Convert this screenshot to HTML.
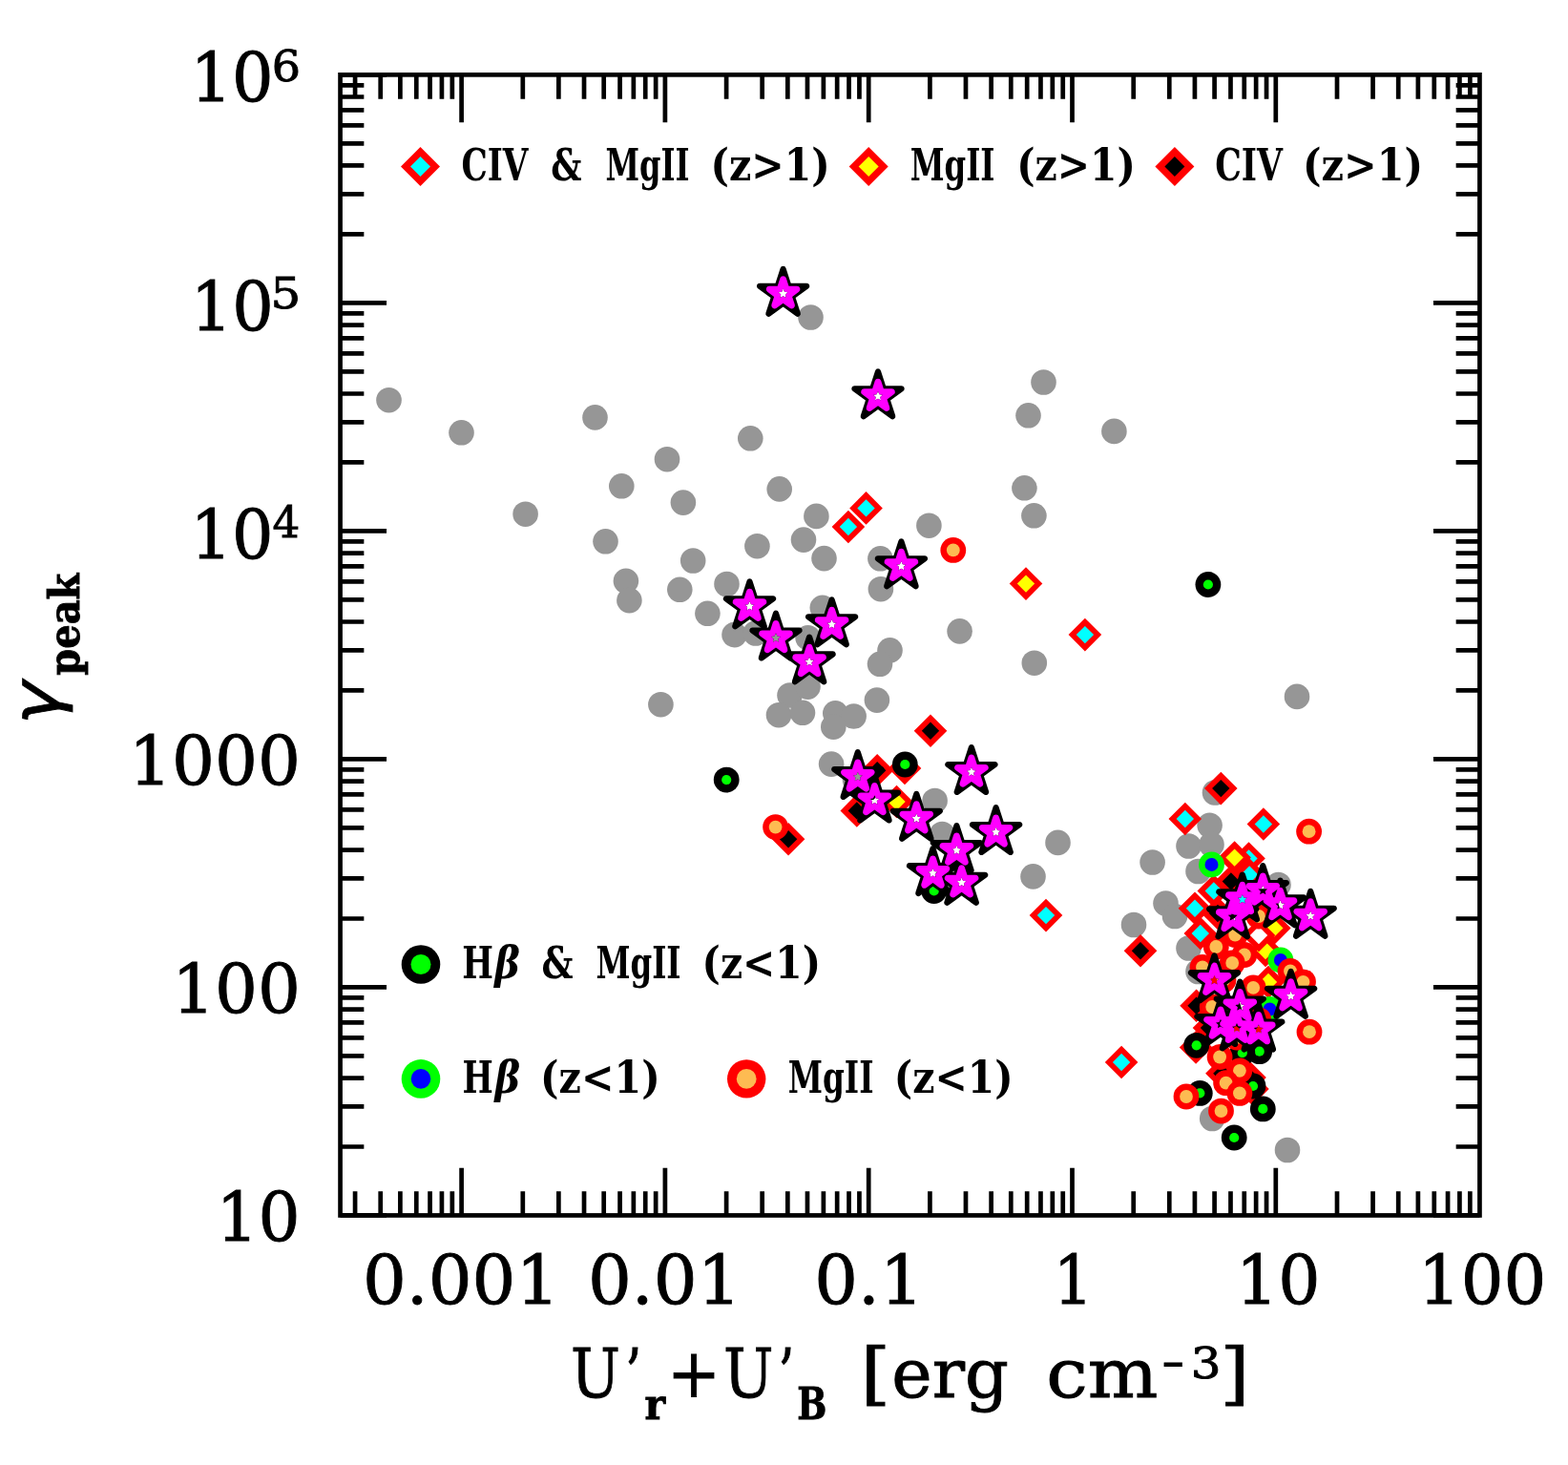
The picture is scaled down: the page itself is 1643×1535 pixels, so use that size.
<!DOCTYPE html><html><head><meta charset="utf-8"><title>gamma_peak vs energy density</title><style>html,body{margin:0;padding:0;background:#fff;}svg{display:block;}</style></head><body>
<svg width="1643" height="1535" viewBox="0 0 1643 1535">
<rect width="100%" height="100%" fill="#fff"/>
<g id="gray">
<circle cx="407.5" cy="419.2" r="13.3" fill="#969696"/>
<circle cx="483.5" cy="453.3" r="13.3" fill="#969696"/>
<circle cx="623.5" cy="437.4" r="13.3" fill="#969696"/>
<circle cx="550.6" cy="538.7" r="13.3" fill="#969696"/>
<circle cx="634.5" cy="567.3" r="13.3" fill="#969696"/>
<circle cx="651.3" cy="509.3" r="13.3" fill="#969696"/>
<circle cx="699" cy="481.2" r="13.3" fill="#969696"/>
<circle cx="715.9" cy="526.6" r="13.3" fill="#969696"/>
<circle cx="786.3" cy="459.3" r="13.3" fill="#969696"/>
<circle cx="816.7" cy="512.4" r="13.3" fill="#969696"/>
<circle cx="855.4" cy="540.9" r="13.3" fill="#969696"/>
<circle cx="793.4" cy="572.2" r="13.3" fill="#969696"/>
<circle cx="842" cy="565.6" r="13.3" fill="#969696"/>
<circle cx="863.5" cy="585.1" r="13.3" fill="#969696"/>
<circle cx="726.2" cy="587.5" r="13.3" fill="#969696"/>
<circle cx="655.9" cy="608.8" r="13.3" fill="#969696"/>
<circle cx="659.4" cy="629.1" r="13.3" fill="#969696"/>
<circle cx="712.3" cy="617.8" r="13.3" fill="#969696"/>
<circle cx="761.5" cy="612" r="13.3" fill="#969696"/>
<circle cx="741.4" cy="642.8" r="13.3" fill="#969696"/>
<circle cx="769.5" cy="665.1" r="13.3" fill="#969696"/>
<circle cx="791.8" cy="663.5" r="13.3" fill="#969696"/>
<circle cx="813" cy="668.7" r="13.3" fill="#969696"/>
<circle cx="861.8" cy="636.8" r="13.3" fill="#969696"/>
<circle cx="846.6" cy="668.2" r="13.3" fill="#969696"/>
<circle cx="922.4" cy="585.3" r="13.3" fill="#969696"/>
<circle cx="922.9" cy="617.2" r="13.3" fill="#969696"/>
<circle cx="932.5" cy="681.4" r="13.3" fill="#969696"/>
<circle cx="922" cy="695.8" r="13.3" fill="#969696"/>
<circle cx="973.4" cy="550.7" r="13.3" fill="#969696"/>
<circle cx="1005.6" cy="661.4" r="13.3" fill="#969696"/>
<circle cx="1093.5" cy="400.5" r="13.3" fill="#969696"/>
<circle cx="1077.5" cy="435.3" r="13.3" fill="#969696"/>
<circle cx="1167.4" cy="451.9" r="13.3" fill="#969696"/>
<circle cx="1073.4" cy="511.3" r="13.3" fill="#969696"/>
<circle cx="1083.4" cy="540.3" r="13.3" fill="#969696"/>
<circle cx="1083.8" cy="694.7" r="13.3" fill="#969696"/>
<circle cx="849.5" cy="332.5" r="13.3" fill="#969696"/>
<circle cx="692.4" cy="738.2" r="13.3" fill="#969696"/>
<circle cx="827.5" cy="728.5" r="13.3" fill="#969696"/>
<circle cx="846.5" cy="719.6" r="13.3" fill="#969696"/>
<circle cx="816" cy="749.2" r="13.3" fill="#969696"/>
<circle cx="841" cy="746.8" r="13.3" fill="#969696"/>
<circle cx="875.3" cy="747.3" r="13.3" fill="#969696"/>
<circle cx="894.6" cy="750.5" r="13.3" fill="#969696"/>
<circle cx="873.3" cy="761.6" r="13.3" fill="#969696"/>
<circle cx="918.9" cy="733.6" r="13.3" fill="#969696"/>
<circle cx="871.1" cy="800.6" r="13.3" fill="#969696"/>
<circle cx="898.8" cy="814" r="13.3" fill="#969696"/>
<circle cx="896" cy="817" r="13.3" fill="#969696"/>
<circle cx="979.6" cy="839" r="13.3" fill="#969696"/>
<circle cx="987.2" cy="874" r="13.3" fill="#969696"/>
<circle cx="1082.5" cy="918.4" r="13.3" fill="#969696"/>
<circle cx="1108.5" cy="882.9" r="13.3" fill="#969696"/>
<circle cx="1207.6" cy="903.5" r="13.3" fill="#969696"/>
<circle cx="1188" cy="969" r="13.3" fill="#969696"/>
<circle cx="1221.5" cy="946.5" r="13.3" fill="#969696"/>
<circle cx="1231" cy="960" r="13.3" fill="#969696"/>
<circle cx="1245.5" cy="993.5" r="13.3" fill="#969696"/>
<circle cx="1255.5" cy="1018" r="13.3" fill="#969696"/>
<circle cx="1273" cy="830.5" r="13.3" fill="#969696"/>
<circle cx="1267.6" cy="864.8" r="13.3" fill="#969696"/>
<circle cx="1245.5" cy="886.5" r="13.3" fill="#969696"/>
<circle cx="1269.5" cy="885" r="13.3" fill="#969696"/>
<circle cx="1255.5" cy="913" r="13.3" fill="#969696"/>
<circle cx="1339.5" cy="927" r="13.3" fill="#969696"/>
<circle cx="1359" cy="729.9" r="13.3" fill="#969696"/>
<circle cx="1349" cy="1205" r="13.3" fill="#969696"/>
<circle cx="1270.2" cy="1172" r="13.3" fill="#969696"/>
</g><g id="diamonds">
<path d="M888.9 534.7 L906.2 552 L888.9 569.3 L871.6 552 Z" fill="#f00"/>
<path d="M888.9 542.8 L898.1 552 L888.9 561.2 L879.7 552 Z" fill="#0ff"/>
<path d="M907.5 515.1 L924.8 532.4 L907.5 549.7 L890.2 532.4 Z" fill="#f00"/>
<path d="M907.5 523.2 L916.7 532.4 L907.5 541.6 L898.3 532.4 Z" fill="#0ff"/>
<path d="M1136.9 647.8 L1154.2 665.1 L1136.9 682.4 L1119.6 665.1 Z" fill="#f00"/>
<path d="M1136.9 655.9 L1146.1 665.1 L1136.9 674.3 L1127.7 665.1 Z" fill="#0ff"/>
<path d="M1241.8 840.7 L1259.1 858 L1241.8 875.3 L1224.5 858 Z" fill="#f00"/>
<path d="M1241.8 848.8 L1251 858 L1241.8 867.2 L1232.6 858 Z" fill="#0ff"/>
<path d="M1323.9 846.2 L1341.2 863.5 L1323.9 880.8 L1306.6 863.5 Z" fill="#f00"/>
<path d="M1323.9 854.3 L1333.1 863.5 L1323.9 872.7 L1314.7 863.5 Z" fill="#0ff"/>
<path d="M1308.5 882.2 L1325.8 899.5 L1308.5 916.8 L1291.2 899.5 Z" fill="#f00"/>
<path d="M1308.5 890.3 L1317.7 899.5 L1308.5 908.7 L1299.3 899.5 Z" fill="#0ff"/>
<path d="M1309.2 899.2 L1326.5 916.5 L1309.2 933.8 L1291.9 916.5 Z" fill="#f00"/>
<path d="M1309.2 907.3 L1318.4 916.5 L1309.2 925.7 L1300 916.5 Z" fill="#0ff"/>
<path d="M1271.8 916.2 L1289.1 933.5 L1271.8 950.8 L1254.5 933.5 Z" fill="#f00"/>
<path d="M1271.8 924.3 L1281 933.5 L1271.8 942.7 L1262.6 933.5 Z" fill="#0ff"/>
<path d="M1252 934.5 L1269.3 951.8 L1252 969.1 L1234.7 951.8 Z" fill="#f00"/>
<path d="M1252 942.6 L1261.2 951.8 L1252 961 L1242.8 951.8 Z" fill="#0ff"/>
<path d="M1257.8 960.7 L1275.1 978 L1257.8 995.3 L1240.5 978 Z" fill="#f00"/>
<path d="M1257.8 968.8 L1267 978 L1257.8 987.2 L1248.6 978 Z" fill="#0ff"/>
<path d="M1096 941.8 L1113.3 959.1 L1096 976.4 L1078.7 959.1 Z" fill="#f00"/>
<path d="M1096 949.9 L1105.2 959.1 L1096 968.3 L1086.8 959.1 Z" fill="#0ff"/>
<path d="M1175.1 1095.7 L1192.4 1113 L1175.1 1130.3 L1157.8 1113 Z" fill="#f00"/>
<path d="M1175.1 1103.8 L1184.3 1113 L1175.1 1122.2 L1165.9 1113 Z" fill="#0ff"/>
<path d="M1301.8 925.1 L1319.1 942.4 L1301.8 959.7 L1284.5 942.4 Z" fill="#f00"/>
<path d="M1301.8 933.2 L1311 942.4 L1301.8 951.6 L1292.6 942.4 Z" fill="#0ff"/>
<path d="M1075 594.3 L1092.3 611.6 L1075 628.9 L1057.7 611.6 Z" fill="#f00"/>
<path d="M1075 602.4 L1084.2 611.6 L1075 620.8 L1065.8 611.6 Z" fill="#ff0"/>
<path d="M939.5 822.7 L956.8 840 L939.5 857.3 L922.2 840 Z" fill="#f00"/>
<path d="M939.5 830.8 L948.7 840 L939.5 849.2 L930.3 840 Z" fill="#ff0"/>
<path d="M1293.6 881.3 L1310.9 898.6 L1293.6 915.9 L1276.3 898.6 Z" fill="#f00"/>
<path d="M1293.6 889.4 L1302.8 898.6 L1293.6 907.8 L1284.4 898.6 Z" fill="#ff0"/>
<path d="M1335.3 955.1 L1352.6 972.4 L1335.3 989.7 L1318 972.4 Z" fill="#f00"/>
<path d="M1335.3 963.2 L1344.5 972.4 L1335.3 981.6 L1326.1 972.4 Z" fill="#ff0"/>
<path d="M1326 978.7 L1343.3 996 L1326 1013.3 L1308.7 996 Z" fill="#f00"/>
<path d="M1326 986.8 L1335.2 996 L1326 1005.2 L1316.8 996 Z" fill="#ff0"/>
<path d="M1329 1011.7 L1346.3 1029 L1329 1046.3 L1311.7 1029 Z" fill="#f00"/>
<path d="M1329 1019.8 L1338.2 1029 L1329 1038.2 L1319.8 1029 Z" fill="#ff0"/>
<path d="M975 748.5 L992.3 765.8 L975 783.1 L957.7 765.8 Z" fill="#f00"/>
<path d="M975 756.6 L984.2 765.8 L975 775 L965.8 765.8 Z" fill="#000"/>
<path d="M826.1 862 L843.4 879.3 L826.1 896.6 L808.8 879.3 Z" fill="#f00"/>
<path d="M826.1 870.1 L835.3 879.3 L826.1 888.5 L816.9 879.3 Z" fill="#000"/>
<path d="M919.2 789.9 L936.5 807.2 L919.2 824.5 L901.9 807.2 Z" fill="#f00"/>
<path d="M919.2 798 L928.4 807.2 L919.2 816.4 L910 807.2 Z" fill="#000"/>
<path d="M948 787.7 L965.3 805 L948 822.3 L930.7 805 Z" fill="#f00"/>
<path d="M948 795.8 L957.2 805 L948 814.2 L938.8 805 Z" fill="#000"/>
<path d="M897.8 832.1 L915.1 849.4 L897.8 866.7 L880.5 849.4 Z" fill="#f00"/>
<path d="M897.8 840.2 L907 849.4 L897.8 858.6 L888.6 849.4 Z" fill="#000"/>
<path d="M1279.3 808.8 L1296.6 826.1 L1279.3 843.4 L1262 826.1 Z" fill="#f00"/>
<path d="M1279.3 816.9 L1288.5 826.1 L1279.3 835.3 L1270.1 826.1 Z" fill="#000"/>
<path d="M1289.9 906.2 L1307.2 923.5 L1289.9 940.8 L1272.6 923.5 Z" fill="#f00"/>
<path d="M1289.9 914.3 L1299.1 923.5 L1289.9 932.7 L1280.7 923.5 Z" fill="#000"/>
<path d="M1195 978.9 L1212.3 996.2 L1195 1013.5 L1177.7 996.2 Z" fill="#f00"/>
<path d="M1195 987 L1204.2 996.2 L1195 1005.4 L1185.8 996.2 Z" fill="#000"/>
<path d="M1253.6 1036.5 L1270.9 1053.8 L1253.6 1071.1 L1236.3 1053.8 Z" fill="#f00"/>
<path d="M1253.6 1044.6 L1262.8 1053.8 L1253.6 1063 L1244.4 1053.8 Z" fill="#000"/>
<path d="M1253.1 1080.1 L1270.4 1097.4 L1253.1 1114.7 L1235.8 1097.4 Z" fill="#f00"/>
<path d="M1253.1 1088.2 L1262.3 1097.4 L1253.1 1106.6 L1243.9 1097.4 Z" fill="#000"/>
<path d="M1280.4 1107.4 L1297.7 1124.7 L1280.4 1142 L1263.1 1124.7 Z" fill="#f00"/>
<path d="M1280.4 1115.5 L1289.6 1124.7 L1280.4 1133.9 L1271.2 1124.7 Z" fill="#000"/>
<path d="M1312.4 1123.8 L1329.7 1141.1 L1312.4 1158.4 L1295.1 1141.1 Z" fill="#f00"/>
<path d="M1312.4 1131.9 L1321.6 1141.1 L1312.4 1150.3 L1303.2 1141.1 Z" fill="#000"/>
<path d="M1309.5 1111.7 L1326.8 1129 L1309.5 1146.3 L1292.2 1129 Z" fill="#f00"/>
<path d="M1309.5 1119.8 L1318.7 1129 L1309.5 1138.2 L1300.3 1129 Z" fill="#000"/>
<path d="M1267 1059.7 L1284.3 1077 L1267 1094.3 L1249.7 1077 Z" fill="#f00"/>
<path d="M1267 1067.8 L1276.2 1077 L1267 1086.2 L1257.8 1077 Z" fill="#000"/>
<path d="M1276 939.7 L1293.3 957 L1276 974.3 L1258.7 957 Z" fill="#f00"/>
<path d="M1276 947.8 L1285.2 957 L1276 966.2 L1266.8 957 Z" fill="#000"/>
<path d="M1319 962.7 L1336.3 980 L1319 997.3 L1301.7 980 Z" fill="#f00"/>
<path d="M1319 970.8 L1328.2 980 L1319 989.2 L1309.8 980 Z" fill="#fff"/>
</g><g id="circles">
<circle cx="761.2" cy="817.1" r="13.4" fill="#000"/>
<circle cx="761.2" cy="817.1" r="5.1" fill="#0f0"/>
<circle cx="948.3" cy="801" r="13.4" fill="#000"/>
<circle cx="948.3" cy="801" r="5.1" fill="#0f0"/>
<circle cx="1265.9" cy="612.5" r="13.4" fill="#000"/>
<circle cx="1265.9" cy="612.5" r="5.1" fill="#0f0"/>
<circle cx="978.7" cy="933.5" r="13.4" fill="#000"/>
<circle cx="978.7" cy="933.5" r="5.1" fill="#0f0"/>
<circle cx="1253.7" cy="1095.3" r="13.4" fill="#000"/>
<circle cx="1253.7" cy="1095.3" r="5.1" fill="#0f0"/>
<circle cx="1319.7" cy="1101.7" r="13.4" fill="#000"/>
<circle cx="1319.7" cy="1101.7" r="5.1" fill="#0f0"/>
<circle cx="1301.8" cy="1103.2" r="13.4" fill="#000"/>
<circle cx="1301.8" cy="1103.2" r="5.1" fill="#0f0"/>
<circle cx="1257.3" cy="1145.4" r="13.4" fill="#000"/>
<circle cx="1257.3" cy="1145.4" r="5.1" fill="#0f0"/>
<circle cx="1323.3" cy="1161.9" r="13.4" fill="#000"/>
<circle cx="1323.3" cy="1161.9" r="5.1" fill="#0f0"/>
<circle cx="1293.2" cy="1192" r="13.4" fill="#000"/>
<circle cx="1293.2" cy="1192" r="5.1" fill="#0f0"/>
<circle cx="1313" cy="1138" r="13.4" fill="#000"/>
<circle cx="1313" cy="1138" r="5.1" fill="#0f0"/>
<circle cx="1269.5" cy="905.9" r="13.4" fill="#0f0"/>
<circle cx="1269.5" cy="905.9" r="7" fill="#00f"/>
<circle cx="1341.9" cy="1006" r="13.4" fill="#0f0"/>
<circle cx="1341.9" cy="1006" r="7" fill="#00f"/>
<circle cx="1330.5" cy="1057.5" r="13.4" fill="#0f0"/>
<circle cx="1330.5" cy="1057.5" r="7" fill="#00f"/>
<circle cx="998.8" cy="576.4" r="13.4" fill="#f00"/>
<circle cx="998.8" cy="576.4" r="6.9" fill="#fdbb52"/>
<circle cx="812.6" cy="866.6" r="13.4" fill="#f00"/>
<circle cx="812.6" cy="866.6" r="6.9" fill="#fdbb52"/>
<circle cx="1371.6" cy="871.2" r="13.4" fill="#f00"/>
<circle cx="1371.6" cy="871.2" r="6.9" fill="#fdbb52"/>
<circle cx="1372" cy="1081.2" r="13.4" fill="#f00"/>
<circle cx="1372" cy="1081.2" r="6.9" fill="#fdbb52"/>
<circle cx="1274.3" cy="992" r="13.4" fill="#f00"/>
<circle cx="1274.3" cy="992" r="6.9" fill="#fdbb52"/>
<circle cx="1303.9" cy="1000.5" r="13.4" fill="#f00"/>
<circle cx="1303.9" cy="1000.5" r="6.9" fill="#fdbb52"/>
<circle cx="1291.2" cy="1009" r="13.4" fill="#f00"/>
<circle cx="1291.2" cy="1009" r="6.9" fill="#fdbb52"/>
<circle cx="1260" cy="1013.5" r="13.4" fill="#f00"/>
<circle cx="1260" cy="1013.5" r="6.9" fill="#fdbb52"/>
<circle cx="1313.2" cy="1034.9" r="13.4" fill="#f00"/>
<circle cx="1313.2" cy="1034.9" r="6.9" fill="#fdbb52"/>
<circle cx="1294.2" cy="979.5" r="13.4" fill="#f00"/>
<circle cx="1294.2" cy="979.5" r="6.9" fill="#fdbb52"/>
<circle cx="1319" cy="960" r="13.4" fill="#f00"/>
<circle cx="1319" cy="960" r="6.9" fill="#fdbb52"/>
<circle cx="1352" cy="1017.5" r="13.4" fill="#f00"/>
<circle cx="1352" cy="1017.5" r="6.9" fill="#fdbb52"/>
<circle cx="1365.5" cy="1028.8" r="13.4" fill="#f00"/>
<circle cx="1365.5" cy="1028.8" r="6.9" fill="#fdbb52"/>
<circle cx="1270.2" cy="1055" r="13.4" fill="#f00"/>
<circle cx="1270.2" cy="1055" r="6.9" fill="#fdbb52"/>
<circle cx="1278.1" cy="1107.5" r="13.4" fill="#f00"/>
<circle cx="1278.1" cy="1107.5" r="6.9" fill="#fdbb52"/>
<circle cx="1298.9" cy="1121.8" r="13.4" fill="#f00"/>
<circle cx="1298.9" cy="1121.8" r="6.9" fill="#fdbb52"/>
<circle cx="1284.6" cy="1134.7" r="13.4" fill="#f00"/>
<circle cx="1284.6" cy="1134.7" r="6.9" fill="#fdbb52"/>
<circle cx="1298.9" cy="1145.4" r="13.4" fill="#f00"/>
<circle cx="1298.9" cy="1145.4" r="6.9" fill="#fdbb52"/>
<circle cx="1243" cy="1149" r="13.4" fill="#f00"/>
<circle cx="1243" cy="1149" r="6.9" fill="#fdbb52"/>
<circle cx="1279.5" cy="1164.1" r="13.4" fill="#f00"/>
<circle cx="1279.5" cy="1164.1" r="6.9" fill="#fdbb52"/>
<circle cx="1282" cy="1027" r="13.4" fill="#f00"/>
<circle cx="1282" cy="1027" r="6.9" fill="#fdbb52"/>
<circle cx="1318.8" cy="1068.6" r="13.4" fill="#f00"/>
<circle cx="1318.8" cy="1068.6" r="6.9" fill="#fdbb52"/>
<circle cx="1296" cy="1087" r="13.4" fill="#f00"/>
<circle cx="1296" cy="1087" r="6.9" fill="#fdbb52"/>
</g><g id="stars">
<path d="M817.65 280.94 A3.1 3.1 0 0 1 823.55 280.94 L828.67 296.7 L845.23 296.7 A3.1 3.1 0 0 1 847.05 302.3 L833.65 312.04 L838.77 327.8 A3.1 3.1 0 0 1 834 331.26 L820.6 321.52 L807.2 331.26 A3.1 3.1 0 0 1 802.43 327.8 L807.55 312.04 L794.15 302.3 A3.1 3.1 0 0 1 795.97 296.7 L812.53 296.7 Z M819.13 305.78 L815.65 306.19 L818.22 308.57 L817.54 312.01 L820.6 310.3 L823.66 312.01 L822.98 308.57 L825.55 306.19 L822.07 305.78 L820.6 302.6 Z" fill="#000" fill-rule="evenodd"/>
<path d="M917.05 388.44 A3.1 3.1 0 0 1 922.95 388.44 L928.07 404.2 L944.63 404.2 A3.1 3.1 0 0 1 946.45 409.8 L933.05 419.54 L938.17 435.3 A3.1 3.1 0 0 1 933.4 438.76 L920 429.02 L906.6 438.76 A3.1 3.1 0 0 1 901.83 435.3 L906.95 419.54 L893.55 409.8 A3.1 3.1 0 0 1 895.37 404.2 L911.93 404.2 Z M918.53 413.28 L915.05 413.69 L917.62 416.07 L916.94 419.51 L920 417.8 L923.06 419.51 L922.38 416.07 L924.95 413.69 L921.47 413.28 L920 410.1 Z" fill="#000" fill-rule="evenodd"/>
<path d="M782.55 608.44 A3.1 3.1 0 0 1 788.45 608.44 L793.57 624.2 L810.13 624.2 A3.1 3.1 0 0 1 811.95 629.8 L798.55 639.54 L803.67 655.3 A3.1 3.1 0 0 1 798.9 658.76 L785.5 649.02 L772.1 658.76 A3.1 3.1 0 0 1 767.33 655.3 L772.45 639.54 L759.05 629.8 A3.1 3.1 0 0 1 760.87 624.2 L777.43 624.2 Z M784.03 633.28 L780.55 633.69 L783.12 636.07 L782.44 639.51 L785.5 637.8 L788.56 639.51 L787.88 636.07 L790.45 633.69 L786.97 633.28 L785.5 630.1 Z" fill="#000" fill-rule="evenodd"/>
<path d="M810.05 641.64 A3.1 3.1 0 0 1 815.95 641.64 L821.07 657.4 L837.63 657.4 A3.1 3.1 0 0 1 839.45 663 L826.05 672.74 L831.17 688.5 A3.1 3.1 0 0 1 826.4 691.96 L813 682.22 L799.6 691.96 A3.1 3.1 0 0 1 794.83 688.5 L799.95 672.74 L786.55 663 A3.1 3.1 0 0 1 788.37 657.4 L804.93 657.4 Z M811.53 666.48 L808.05 666.89 L810.62 669.27 L809.94 672.71 L813 671 L816.06 672.71 L815.38 669.27 L817.95 666.89 L814.47 666.48 L813 663.3 Z" fill="#000" fill-rule="evenodd"/>
<path d="M868.65 627.44 A3.1 3.1 0 0 1 874.55 627.44 L879.67 643.2 L896.23 643.2 A3.1 3.1 0 0 1 898.05 648.8 L884.65 658.54 L889.77 674.3 A3.1 3.1 0 0 1 885 677.76 L871.6 668.02 L858.2 677.76 A3.1 3.1 0 0 1 853.43 674.3 L858.55 658.54 L845.15 648.8 A3.1 3.1 0 0 1 846.97 643.2 L863.53 643.2 Z M870.13 652.28 L866.65 652.69 L869.22 655.07 L868.54 658.51 L871.6 656.8 L874.66 658.51 L873.98 655.07 L876.55 652.69 L873.07 652.28 L871.6 649.1 Z" fill="#000" fill-rule="evenodd"/>
<path d="M845.15 666.54 A3.1 3.1 0 0 1 851.05 666.54 L856.17 682.3 L872.73 682.3 A3.1 3.1 0 0 1 874.55 687.9 L861.15 697.64 L866.27 713.4 A3.1 3.1 0 0 1 861.5 716.86 L848.1 707.12 L834.7 716.86 A3.1 3.1 0 0 1 829.93 713.4 L835.05 697.64 L821.65 687.9 A3.1 3.1 0 0 1 823.47 682.3 L840.03 682.3 Z M846.63 691.38 L843.15 691.79 L845.72 694.17 L845.04 697.61 L848.1 695.9 L851.16 697.61 L850.48 694.17 L853.05 691.79 L849.57 691.38 L848.1 688.2 Z" fill="#000" fill-rule="evenodd"/>
<path d="M941.45 566.44 A3.1 3.1 0 0 1 947.35 566.44 L952.47 582.2 L969.03 582.2 A3.1 3.1 0 0 1 970.85 587.8 L957.45 597.54 L962.57 613.3 A3.1 3.1 0 0 1 957.8 616.76 L944.4 607.02 L931 616.76 A3.1 3.1 0 0 1 926.23 613.3 L931.35 597.54 L917.95 587.8 A3.1 3.1 0 0 1 919.77 582.2 L936.33 582.2 Z M942.93 591.28 L939.45 591.69 L942.02 594.07 L941.34 597.51 L944.4 595.8 L947.46 597.51 L946.78 594.07 L949.35 591.69 L945.87 591.28 L944.4 588.1 Z" fill="#000" fill-rule="evenodd"/>
<path d="M895.85 787.14 A3.1 3.1 0 0 1 901.75 787.14 L906.87 802.9 L923.43 802.9 A3.1 3.1 0 0 1 925.25 808.5 L911.85 818.24 L916.97 834 A3.1 3.1 0 0 1 912.2 837.46 L898.8 827.72 L885.4 837.46 A3.1 3.1 0 0 1 880.63 834 L885.75 818.24 L872.35 808.5 A3.1 3.1 0 0 1 874.17 802.9 L890.73 802.9 Z M897.33 811.98 L893.85 812.39 L896.42 814.77 L895.74 818.21 L898.8 816.5 L901.86 818.21 L901.18 814.77 L903.75 812.39 L900.27 811.98 L898.8 808.8 Z" fill="#000" fill-rule="evenodd"/>
<path d="M913.45 811.64 A3.1 3.1 0 0 1 919.35 811.64 L924.47 827.4 L941.03 827.4 A3.1 3.1 0 0 1 942.85 833 L929.45 842.74 L934.57 858.5 A3.1 3.1 0 0 1 929.8 861.96 L916.4 852.22 L903 861.96 A3.1 3.1 0 0 1 898.23 858.5 L903.35 842.74 L889.95 833 A3.1 3.1 0 0 1 891.77 827.4 L908.33 827.4 Z M914.93 836.48 L911.45 836.89 L914.02 839.27 L913.34 842.71 L916.4 841 L919.46 842.71 L918.78 839.27 L921.35 836.89 L917.87 836.48 L916.4 833.3 Z" fill="#000" fill-rule="evenodd"/>
<path d="M957.35 830.94 A3.1 3.1 0 0 1 963.25 830.94 L968.37 846.7 L984.93 846.7 A3.1 3.1 0 0 1 986.75 852.3 L973.35 862.04 L978.47 877.8 A3.1 3.1 0 0 1 973.7 881.26 L960.3 871.52 L946.9 881.26 A3.1 3.1 0 0 1 942.13 877.8 L947.25 862.04 L933.85 852.3 A3.1 3.1 0 0 1 935.67 846.7 L952.23 846.7 Z M958.83 855.78 L955.35 856.19 L957.92 858.57 L957.24 862.01 L960.3 860.3 L963.36 862.01 L962.68 858.57 L965.25 856.19 L961.77 855.78 L960.3 852.6 Z" fill="#000" fill-rule="evenodd"/>
<path d="M1014.95 782.14 A3.1 3.1 0 0 1 1020.85 782.14 L1025.97 797.9 L1042.53 797.9 A3.1 3.1 0 0 1 1044.35 803.5 L1030.95 813.24 L1036.07 829 A3.1 3.1 0 0 1 1031.3 832.46 L1017.9 822.72 L1004.5 832.46 A3.1 3.1 0 0 1 999.73 829 L1004.85 813.24 L991.45 803.5 A3.1 3.1 0 0 1 993.27 797.9 L1009.83 797.9 Z M1016.43 806.98 L1012.95 807.39 L1015.52 809.77 L1014.84 813.21 L1017.9 811.5 L1020.96 813.21 L1020.28 809.77 L1022.85 807.39 L1019.37 806.98 L1017.9 803.8 Z" fill="#000" fill-rule="evenodd"/>
<path d="M1040.65 845.14 A3.1 3.1 0 0 1 1046.55 845.14 L1051.67 860.9 L1068.23 860.9 A3.1 3.1 0 0 1 1070.05 866.5 L1056.65 876.24 L1061.77 892 A3.1 3.1 0 0 1 1057 895.46 L1043.6 885.72 L1030.2 895.46 A3.1 3.1 0 0 1 1025.43 892 L1030.55 876.24 L1017.15 866.5 A3.1 3.1 0 0 1 1018.97 860.9 L1035.53 860.9 Z M1042.13 869.98 L1038.65 870.39 L1041.22 872.77 L1040.54 876.21 L1043.6 874.5 L1046.66 876.21 L1045.98 872.77 L1048.55 870.39 L1045.07 869.98 L1043.6 866.8 Z" fill="#000" fill-rule="evenodd"/>
<path d="M999.45 864.14 A3.1 3.1 0 0 1 1005.35 864.14 L1010.47 879.9 L1027.03 879.9 A3.1 3.1 0 0 1 1028.85 885.5 L1015.45 895.24 L1020.57 911 A3.1 3.1 0 0 1 1015.8 914.46 L1002.4 904.72 L989 914.46 A3.1 3.1 0 0 1 984.23 911 L989.35 895.24 L975.95 885.5 A3.1 3.1 0 0 1 977.77 879.9 L994.33 879.9 Z M1000.93 888.98 L997.45 889.39 L1000.02 891.77 L999.34 895.21 L1002.4 893.5 L1005.46 895.21 L1004.78 891.77 L1007.35 889.39 L1003.87 888.98 L1002.4 885.8 Z" fill="#000" fill-rule="evenodd"/>
<path d="M974.55 888.24 A3.1 3.1 0 0 1 980.45 888.24 L985.57 904 L1002.13 904 A3.1 3.1 0 0 1 1003.95 909.6 L990.55 919.34 L995.67 935.1 A3.1 3.1 0 0 1 990.9 938.56 L977.5 928.82 L964.1 938.56 A3.1 3.1 0 0 1 959.33 935.1 L964.45 919.34 L951.05 909.6 A3.1 3.1 0 0 1 952.87 904 L969.43 904 Z M976.03 913.08 L972.55 913.49 L975.12 915.87 L974.44 919.31 L977.5 917.6 L980.56 919.31 L979.88 915.87 L982.45 913.49 L978.97 913.08 L977.5 909.9 Z" fill="#000" fill-rule="evenodd"/>
<path d="M1004.65 897.94 A3.1 3.1 0 0 1 1010.55 897.94 L1015.67 913.7 L1032.23 913.7 A3.1 3.1 0 0 1 1034.05 919.3 L1020.65 929.04 L1025.77 944.8 A3.1 3.1 0 0 1 1021 948.26 L1007.6 938.52 L994.2 948.26 A3.1 3.1 0 0 1 989.43 944.8 L994.55 929.04 L981.15 919.3 A3.1 3.1 0 0 1 982.97 913.7 L999.53 913.7 Z M1006.13 922.78 L1002.65 923.19 L1005.22 925.57 L1004.54 929.01 L1007.6 927.3 L1010.66 929.01 L1009.98 925.57 L1012.55 923.19 L1009.07 922.78 L1007.6 919.6 Z" fill="#000" fill-rule="evenodd"/>
<path d="M1320.35 906.14 A3.1 3.1 0 0 1 1326.25 906.14 L1331.37 921.9 L1347.93 921.9 A3.1 3.1 0 0 1 1349.75 927.5 L1336.35 937.24 L1341.47 953 A3.1 3.1 0 0 1 1336.7 956.46 L1323.3 946.72 L1309.9 956.46 A3.1 3.1 0 0 1 1305.13 953 L1310.25 937.24 L1296.85 927.5 A3.1 3.1 0 0 1 1298.67 921.9 L1315.23 921.9 Z M1321.83 930.98 L1318.35 931.39 L1320.92 933.77 L1320.24 937.21 L1323.3 935.5 L1326.36 937.21 L1325.68 933.77 L1328.25 931.39 L1324.77 930.98 L1323.3 927.8 Z" fill="#000" fill-rule="evenodd"/>
<path d="M1338.55 921.54 A3.1 3.1 0 0 1 1344.45 921.54 L1349.57 937.3 L1366.13 937.3 A3.1 3.1 0 0 1 1367.95 942.9 L1354.55 952.64 L1359.67 968.4 A3.1 3.1 0 0 1 1354.9 971.86 L1341.5 962.12 L1328.1 971.86 A3.1 3.1 0 0 1 1323.33 968.4 L1328.45 952.64 L1315.05 942.9 A3.1 3.1 0 0 1 1316.87 937.3 L1333.43 937.3 Z M1340.03 946.38 L1336.55 946.79 L1339.12 949.17 L1338.44 952.61 L1341.5 950.9 L1344.56 952.61 L1343.88 949.17 L1346.45 946.79 L1342.97 946.38 L1341.5 943.2 Z" fill="#000" fill-rule="evenodd"/>
<path d="M1298.85 915.54 A3.1 3.1 0 0 1 1304.75 915.54 L1309.87 931.3 L1326.43 931.3 A3.1 3.1 0 0 1 1328.25 936.9 L1314.85 946.64 L1319.97 962.4 A3.1 3.1 0 0 1 1315.2 965.86 L1301.8 956.12 L1288.4 965.86 A3.1 3.1 0 0 1 1283.63 962.4 L1288.75 946.64 L1275.35 936.9 A3.1 3.1 0 0 1 1277.17 931.3 L1293.73 931.3 Z M1300.33 940.38 L1296.85 940.79 L1299.42 943.17 L1298.74 946.61 L1301.8 944.9 L1304.86 946.61 L1304.18 943.17 L1306.75 940.79 L1303.27 940.38 L1301.8 937.2 Z" fill="#000" fill-rule="evenodd"/>
<path d="M1370.25 932.94 A3.1 3.1 0 0 1 1376.15 932.94 L1381.27 948.7 L1397.83 948.7 A3.1 3.1 0 0 1 1399.65 954.3 L1386.25 964.04 L1391.37 979.8 A3.1 3.1 0 0 1 1386.6 983.26 L1373.2 973.52 L1359.8 983.26 A3.1 3.1 0 0 1 1355.03 979.8 L1360.15 964.04 L1346.75 954.3 A3.1 3.1 0 0 1 1348.57 948.7 L1365.13 948.7 Z M1371.73 957.78 L1368.25 958.19 L1370.82 960.57 L1370.14 964.01 L1373.2 962.3 L1376.26 964.01 L1375.58 960.57 L1378.15 958.19 L1374.67 957.78 L1373.2 954.6 Z" fill="#000" fill-rule="evenodd"/>
<path d="M1288.75 933.54 A3.1 3.1 0 0 1 1294.65 933.54 L1299.77 949.3 L1316.33 949.3 A3.1 3.1 0 0 1 1318.15 954.9 L1304.75 964.64 L1309.87 980.4 A3.1 3.1 0 0 1 1305.1 983.86 L1291.7 974.12 L1278.3 983.86 A3.1 3.1 0 0 1 1273.53 980.4 L1278.65 964.64 L1265.25 954.9 A3.1 3.1 0 0 1 1267.07 949.3 L1283.63 949.3 Z M1290.23 958.38 L1286.75 958.79 L1289.32 961.17 L1288.64 964.61 L1291.7 962.9 L1294.76 964.61 L1294.08 961.17 L1296.65 958.79 L1293.17 958.38 L1291.7 955.2 Z" fill="#000" fill-rule="evenodd"/>
<path d="M1269.55 1000.34 A3.1 3.1 0 0 1 1275.45 1000.34 L1280.57 1016.1 L1297.13 1016.1 A3.1 3.1 0 0 1 1298.95 1021.7 L1285.55 1031.44 L1290.67 1047.2 A3.1 3.1 0 0 1 1285.9 1050.66 L1272.5 1040.92 L1259.1 1050.66 A3.1 3.1 0 0 1 1254.33 1047.2 L1259.45 1031.44 L1246.05 1021.7 A3.1 3.1 0 0 1 1247.87 1016.1 L1264.43 1016.1 Z M1271.03 1025.18 L1267.55 1025.59 L1270.12 1027.97 L1269.44 1031.41 L1272.5 1029.7 L1275.56 1031.41 L1274.88 1027.97 L1277.45 1025.59 L1273.97 1025.18 L1272.5 1022 Z" fill="#000" fill-rule="evenodd"/>
<path d="M1349.65 1016.94 A3.1 3.1 0 0 1 1355.55 1016.94 L1360.67 1032.7 L1377.23 1032.7 A3.1 3.1 0 0 1 1379.05 1038.3 L1365.65 1048.04 L1370.77 1063.8 A3.1 3.1 0 0 1 1366 1067.26 L1352.6 1057.52 L1339.2 1067.26 A3.1 3.1 0 0 1 1334.43 1063.8 L1339.55 1048.04 L1326.15 1038.3 A3.1 3.1 0 0 1 1327.97 1032.7 L1344.53 1032.7 Z M1351.13 1041.78 L1347.65 1042.19 L1350.22 1044.57 L1349.54 1048.01 L1352.6 1046.3 L1355.66 1048.01 L1354.98 1044.57 L1357.55 1042.19 L1354.07 1041.78 L1352.6 1038.6 Z" fill="#000" fill-rule="evenodd"/>
<path d="M1296.35 1027.64 A3.1 3.1 0 0 1 1302.25 1027.64 L1307.37 1043.4 L1323.93 1043.4 A3.1 3.1 0 0 1 1325.75 1049 L1312.35 1058.74 L1317.47 1074.5 A3.1 3.1 0 0 1 1312.7 1077.96 L1299.3 1068.22 L1285.9 1077.96 A3.1 3.1 0 0 1 1281.13 1074.5 L1286.25 1058.74 L1272.85 1049 A3.1 3.1 0 0 1 1274.67 1043.4 L1291.23 1043.4 Z M1297.83 1052.48 L1294.35 1052.89 L1296.92 1055.27 L1296.24 1058.71 L1299.3 1057 L1302.36 1058.71 L1301.68 1055.27 L1304.25 1052.89 L1300.77 1052.48 L1299.3 1049.3 Z" fill="#000" fill-rule="evenodd"/>
<path d="M1276.05 1046.14 A3.1 3.1 0 0 1 1281.95 1046.14 L1287.07 1061.9 L1303.63 1061.9 A3.1 3.1 0 0 1 1305.45 1067.5 L1292.05 1077.24 L1297.17 1093 A3.1 3.1 0 0 1 1292.4 1096.46 L1279 1086.72 L1265.6 1096.46 A3.1 3.1 0 0 1 1260.83 1093 L1265.95 1077.24 L1252.55 1067.5 A3.1 3.1 0 0 1 1254.37 1061.9 L1270.93 1061.9 Z M1277.53 1070.98 L1274.05 1071.39 L1276.62 1073.77 L1275.94 1077.21 L1279 1075.5 L1282.06 1077.21 L1281.38 1073.77 L1283.95 1071.39 L1280.47 1070.98 L1279 1067.8 Z" fill="#000" fill-rule="evenodd"/>
<path d="M1293.05 1050.44 A3.1 3.1 0 0 1 1298.95 1050.44 L1304.07 1066.2 L1320.63 1066.2 A3.1 3.1 0 0 1 1322.45 1071.8 L1309.05 1081.54 L1314.17 1097.3 A3.1 3.1 0 0 1 1309.4 1100.76 L1296 1091.02 L1282.6 1100.76 A3.1 3.1 0 0 1 1277.83 1097.3 L1282.95 1081.54 L1269.55 1071.8 A3.1 3.1 0 0 1 1271.37 1066.2 L1287.93 1066.2 Z M1294.53 1075.28 L1291.05 1075.69 L1293.62 1078.07 L1292.94 1081.51 L1296 1079.8 L1299.06 1081.51 L1298.38 1078.07 L1300.95 1075.69 L1297.47 1075.28 L1296 1072.1 Z" fill="#000" fill-rule="evenodd"/>
<path d="M1315.85 1051.74 A3.1 3.1 0 0 1 1321.75 1051.74 L1326.87 1067.5 L1343.43 1067.5 A3.1 3.1 0 0 1 1345.25 1073.1 L1331.85 1082.84 L1336.97 1098.6 A3.1 3.1 0 0 1 1332.2 1102.06 L1318.8 1092.32 L1305.4 1102.06 A3.1 3.1 0 0 1 1300.63 1098.6 L1305.75 1082.84 L1292.35 1073.1 A3.1 3.1 0 0 1 1294.17 1067.5 L1310.73 1067.5 Z M1317.33 1076.58 L1313.85 1076.99 L1316.42 1079.37 L1315.74 1082.81 L1318.8 1081.1 L1321.86 1082.81 L1321.18 1079.37 L1323.75 1076.99 L1320.27 1076.58 L1318.8 1073.4 Z" fill="#000" fill-rule="evenodd"/>
<path d="M817.37 291.55 A3.4 3.4 0 0 1 823.83 291.55 L826.48 299.7 L835.06 299.7 A3.4 3.4 0 0 1 837.05 305.85 L830.12 310.89 L832.77 319.05 A3.4 3.4 0 0 1 827.54 322.85 L820.6 317.81 L813.66 322.85 A3.4 3.4 0 0 1 808.43 319.05 L811.08 310.89 L804.15 305.85 A3.4 3.4 0 0 1 806.14 299.7 L814.72 299.7 Z M819.13 305.78 L815.65 306.19 L818.22 308.57 L817.54 312.01 L820.6 310.3 L823.66 312.01 L822.98 308.57 L825.55 306.19 L822.07 305.78 L820.6 302.6 Z" fill="#f0f" fill-rule="evenodd"/>
<path d="M916.77 399.05 A3.4 3.4 0 0 1 923.23 399.05 L925.88 407.2 L934.46 407.2 A3.4 3.4 0 0 1 936.45 413.35 L929.52 418.39 L932.17 426.55 A3.4 3.4 0 0 1 926.94 430.35 L920 425.31 L913.06 430.35 A3.4 3.4 0 0 1 907.83 426.55 L910.48 418.39 L903.55 413.35 A3.4 3.4 0 0 1 905.54 407.2 L914.12 407.2 Z M918.53 413.28 L915.05 413.69 L917.62 416.07 L916.94 419.51 L920 417.8 L923.06 419.51 L922.38 416.07 L924.95 413.69 L921.47 413.28 L920 410.1 Z" fill="#f0f" fill-rule="evenodd"/>
<path d="M782.27 619.05 A3.4 3.4 0 0 1 788.73 619.05 L791.38 627.2 L799.96 627.2 A3.4 3.4 0 0 1 801.95 633.35 L795.02 638.39 L797.67 646.55 A3.4 3.4 0 0 1 792.44 650.35 L785.5 645.31 L778.56 650.35 A3.4 3.4 0 0 1 773.33 646.55 L775.98 638.39 L769.05 633.35 A3.4 3.4 0 0 1 771.04 627.2 L779.62 627.2 Z M784.03 633.28 L780.55 633.69 L783.12 636.07 L782.44 639.51 L785.5 637.8 L788.56 639.51 L787.88 636.07 L790.45 633.69 L786.97 633.28 L785.5 630.1 Z" fill="#f0f" fill-rule="evenodd"/>
<path d="M809.77 652.25 A3.4 3.4 0 0 1 816.23 652.25 L818.88 660.4 L827.46 660.4 A3.4 3.4 0 0 1 829.45 666.55 L822.52 671.59 L825.17 679.75 A3.4 3.4 0 0 1 819.94 683.55 L813 678.51 L806.06 683.55 A3.4 3.4 0 0 1 800.83 679.75 L803.48 671.59 L796.55 666.55 A3.4 3.4 0 0 1 798.54 660.4 L807.12 660.4 Z M811.53 666.48 L808.05 666.89 L810.62 669.27 L809.94 672.71 L813 671 L816.06 672.71 L815.38 669.27 L817.95 666.89 L814.47 666.48 L813 663.3 Z" fill="#f0f" fill-rule="evenodd"/>
<path d="M868.37 638.05 A3.4 3.4 0 0 1 874.83 638.05 L877.48 646.2 L886.06 646.2 A3.4 3.4 0 0 1 888.05 652.35 L881.12 657.39 L883.77 665.55 A3.4 3.4 0 0 1 878.54 669.35 L871.6 664.31 L864.66 669.35 A3.4 3.4 0 0 1 859.43 665.55 L862.08 657.39 L855.15 652.35 A3.4 3.4 0 0 1 857.14 646.2 L865.72 646.2 Z M870.13 652.28 L866.65 652.69 L869.22 655.07 L868.54 658.51 L871.6 656.8 L874.66 658.51 L873.98 655.07 L876.55 652.69 L873.07 652.28 L871.6 649.1 Z" fill="#f0f" fill-rule="evenodd"/>
<path d="M844.87 677.15 A3.4 3.4 0 0 1 851.33 677.15 L853.98 685.3 L862.56 685.3 A3.4 3.4 0 0 1 864.55 691.45 L857.62 696.49 L860.27 704.65 A3.4 3.4 0 0 1 855.04 708.45 L848.1 703.41 L841.16 708.45 A3.4 3.4 0 0 1 835.93 704.65 L838.58 696.49 L831.65 691.45 A3.4 3.4 0 0 1 833.64 685.3 L842.22 685.3 Z M846.63 691.38 L843.15 691.79 L845.72 694.17 L845.04 697.61 L848.1 695.9 L851.16 697.61 L850.48 694.17 L853.05 691.79 L849.57 691.38 L848.1 688.2 Z" fill="#f0f" fill-rule="evenodd"/>
<path d="M941.17 577.05 A3.4 3.4 0 0 1 947.63 577.05 L950.28 585.2 L958.86 585.2 A3.4 3.4 0 0 1 960.85 591.35 L953.92 596.39 L956.57 604.55 A3.4 3.4 0 0 1 951.34 608.35 L944.4 603.31 L937.46 608.35 A3.4 3.4 0 0 1 932.23 604.55 L934.88 596.39 L927.95 591.35 A3.4 3.4 0 0 1 929.94 585.2 L938.52 585.2 Z M942.93 591.28 L939.45 591.69 L942.02 594.07 L941.34 597.51 L944.4 595.8 L947.46 597.51 L946.78 594.07 L949.35 591.69 L945.87 591.28 L944.4 588.1 Z" fill="#f0f" fill-rule="evenodd"/>
<path d="M895.57 797.75 A3.4 3.4 0 0 1 902.03 797.75 L904.68 805.9 L913.26 805.9 A3.4 3.4 0 0 1 915.25 812.05 L908.32 817.09 L910.97 825.25 A3.4 3.4 0 0 1 905.74 829.05 L898.8 824.01 L891.86 829.05 A3.4 3.4 0 0 1 886.63 825.25 L889.28 817.09 L882.35 812.05 A3.4 3.4 0 0 1 884.34 805.9 L892.92 805.9 Z M897.33 811.98 L893.85 812.39 L896.42 814.77 L895.74 818.21 L898.8 816.5 L901.86 818.21 L901.18 814.77 L903.75 812.39 L900.27 811.98 L898.8 808.8 Z" fill="#f0f" fill-rule="evenodd"/>
<path d="M913.17 822.25 A3.4 3.4 0 0 1 919.63 822.25 L922.28 830.4 L930.86 830.4 A3.4 3.4 0 0 1 932.85 836.55 L925.92 841.59 L928.57 849.75 A3.4 3.4 0 0 1 923.34 853.55 L916.4 848.51 L909.46 853.55 A3.4 3.4 0 0 1 904.23 849.75 L906.88 841.59 L899.95 836.55 A3.4 3.4 0 0 1 901.94 830.4 L910.52 830.4 Z M914.93 836.48 L911.45 836.89 L914.02 839.27 L913.34 842.71 L916.4 841 L919.46 842.71 L918.78 839.27 L921.35 836.89 L917.87 836.48 L916.4 833.3 Z" fill="#f0f" fill-rule="evenodd"/>
<path d="M957.07 841.55 A3.4 3.4 0 0 1 963.53 841.55 L966.18 849.7 L974.76 849.7 A3.4 3.4 0 0 1 976.75 855.85 L969.82 860.89 L972.47 869.05 A3.4 3.4 0 0 1 967.24 872.85 L960.3 867.81 L953.36 872.85 A3.4 3.4 0 0 1 948.13 869.05 L950.78 860.89 L943.85 855.85 A3.4 3.4 0 0 1 945.84 849.7 L954.42 849.7 Z M958.83 855.78 L955.35 856.19 L957.92 858.57 L957.24 862.01 L960.3 860.3 L963.36 862.01 L962.68 858.57 L965.25 856.19 L961.77 855.78 L960.3 852.6 Z" fill="#f0f" fill-rule="evenodd"/>
<path d="M1014.67 792.75 A3.4 3.4 0 0 1 1021.13 792.75 L1023.78 800.9 L1032.36 800.9 A3.4 3.4 0 0 1 1034.35 807.05 L1027.42 812.09 L1030.07 820.25 A3.4 3.4 0 0 1 1024.84 824.05 L1017.9 819.01 L1010.96 824.05 A3.4 3.4 0 0 1 1005.73 820.25 L1008.38 812.09 L1001.45 807.05 A3.4 3.4 0 0 1 1003.44 800.9 L1012.02 800.9 Z M1016.43 806.98 L1012.95 807.39 L1015.52 809.77 L1014.84 813.21 L1017.9 811.5 L1020.96 813.21 L1020.28 809.77 L1022.85 807.39 L1019.37 806.98 L1017.9 803.8 Z" fill="#f0f" fill-rule="evenodd"/>
<path d="M1040.37 855.75 A3.4 3.4 0 0 1 1046.83 855.75 L1049.48 863.9 L1058.06 863.9 A3.4 3.4 0 0 1 1060.05 870.05 L1053.12 875.09 L1055.77 883.25 A3.4 3.4 0 0 1 1050.54 887.05 L1043.6 882.01 L1036.66 887.05 A3.4 3.4 0 0 1 1031.43 883.25 L1034.08 875.09 L1027.15 870.05 A3.4 3.4 0 0 1 1029.14 863.9 L1037.72 863.9 Z M1042.13 869.98 L1038.65 870.39 L1041.22 872.77 L1040.54 876.21 L1043.6 874.5 L1046.66 876.21 L1045.98 872.77 L1048.55 870.39 L1045.07 869.98 L1043.6 866.8 Z" fill="#f0f" fill-rule="evenodd"/>
<path d="M999.17 874.75 A3.4 3.4 0 0 1 1005.63 874.75 L1008.28 882.9 L1016.86 882.9 A3.4 3.4 0 0 1 1018.85 889.05 L1011.92 894.09 L1014.57 902.25 A3.4 3.4 0 0 1 1009.34 906.05 L1002.4 901.01 L995.46 906.05 A3.4 3.4 0 0 1 990.23 902.25 L992.88 894.09 L985.95 889.05 A3.4 3.4 0 0 1 987.94 882.9 L996.52 882.9 Z M1000.93 888.98 L997.45 889.39 L1000.02 891.77 L999.34 895.21 L1002.4 893.5 L1005.46 895.21 L1004.78 891.77 L1007.35 889.39 L1003.87 888.98 L1002.4 885.8 Z" fill="#f0f" fill-rule="evenodd"/>
<path d="M974.27 898.85 A3.4 3.4 0 0 1 980.73 898.85 L983.38 907 L991.96 907 A3.4 3.4 0 0 1 993.95 913.15 L987.02 918.19 L989.67 926.35 A3.4 3.4 0 0 1 984.44 930.15 L977.5 925.11 L970.56 930.15 A3.4 3.4 0 0 1 965.33 926.35 L967.98 918.19 L961.05 913.15 A3.4 3.4 0 0 1 963.04 907 L971.62 907 Z M976.03 913.08 L972.55 913.49 L975.12 915.87 L974.44 919.31 L977.5 917.6 L980.56 919.31 L979.88 915.87 L982.45 913.49 L978.97 913.08 L977.5 909.9 Z" fill="#f0f" fill-rule="evenodd"/>
<path d="M1004.37 908.55 A3.4 3.4 0 0 1 1010.83 908.55 L1013.48 916.7 L1022.06 916.7 A3.4 3.4 0 0 1 1024.05 922.85 L1017.12 927.89 L1019.77 936.05 A3.4 3.4 0 0 1 1014.54 939.85 L1007.6 934.81 L1000.66 939.85 A3.4 3.4 0 0 1 995.43 936.05 L998.08 927.89 L991.15 922.85 A3.4 3.4 0 0 1 993.14 916.7 L1001.72 916.7 Z M1006.13 922.78 L1002.65 923.19 L1005.22 925.57 L1004.54 929.01 L1007.6 927.3 L1010.66 929.01 L1009.98 925.57 L1012.55 923.19 L1009.07 922.78 L1007.6 919.6 Z" fill="#f0f" fill-rule="evenodd"/>
<path d="M1320.07 916.75 A3.4 3.4 0 0 1 1326.53 916.75 L1329.18 924.9 L1337.76 924.9 A3.4 3.4 0 0 1 1339.75 931.05 L1332.82 936.09 L1335.47 944.25 A3.4 3.4 0 0 1 1330.24 948.05 L1323.3 943.01 L1316.36 948.05 A3.4 3.4 0 0 1 1311.13 944.25 L1313.78 936.09 L1306.85 931.05 A3.4 3.4 0 0 1 1308.84 924.9 L1317.42 924.9 Z M1321.83 930.98 L1318.35 931.39 L1320.92 933.77 L1320.24 937.21 L1323.3 935.5 L1326.36 937.21 L1325.68 933.77 L1328.25 931.39 L1324.77 930.98 L1323.3 927.8 Z" fill="#f0f" fill-rule="evenodd"/>
<path d="M1338.27 932.15 A3.4 3.4 0 0 1 1344.73 932.15 L1347.38 940.3 L1355.96 940.3 A3.4 3.4 0 0 1 1357.95 946.45 L1351.02 951.49 L1353.67 959.65 A3.4 3.4 0 0 1 1348.44 963.45 L1341.5 958.41 L1334.56 963.45 A3.4 3.4 0 0 1 1329.33 959.65 L1331.98 951.49 L1325.05 946.45 A3.4 3.4 0 0 1 1327.04 940.3 L1335.62 940.3 Z M1340.03 946.38 L1336.55 946.79 L1339.12 949.17 L1338.44 952.61 L1341.5 950.9 L1344.56 952.61 L1343.88 949.17 L1346.45 946.79 L1342.97 946.38 L1341.5 943.2 Z" fill="#f0f" fill-rule="evenodd"/>
<path d="M1298.57 926.15 A3.4 3.4 0 0 1 1305.03 926.15 L1307.68 934.3 L1316.26 934.3 A3.4 3.4 0 0 1 1318.25 940.45 L1311.32 945.49 L1313.97 953.65 A3.4 3.4 0 0 1 1308.74 957.45 L1301.8 952.41 L1294.86 957.45 A3.4 3.4 0 0 1 1289.63 953.65 L1292.28 945.49 L1285.35 940.45 A3.4 3.4 0 0 1 1287.34 934.3 L1295.92 934.3 Z M1300.33 940.38 L1296.85 940.79 L1299.42 943.17 L1298.74 946.61 L1301.8 944.9 L1304.86 946.61 L1304.18 943.17 L1306.75 940.79 L1303.27 940.38 L1301.8 937.2 Z" fill="#f0f" fill-rule="evenodd"/>
<path d="M1369.97 943.55 A3.4 3.4 0 0 1 1376.43 943.55 L1379.08 951.7 L1387.66 951.7 A3.4 3.4 0 0 1 1389.65 957.85 L1382.72 962.89 L1385.37 971.05 A3.4 3.4 0 0 1 1380.14 974.85 L1373.2 969.81 L1366.26 974.85 A3.4 3.4 0 0 1 1361.03 971.05 L1363.68 962.89 L1356.75 957.85 A3.4 3.4 0 0 1 1358.74 951.7 L1367.32 951.7 Z M1371.73 957.78 L1368.25 958.19 L1370.82 960.57 L1370.14 964.01 L1373.2 962.3 L1376.26 964.01 L1375.58 960.57 L1378.15 958.19 L1374.67 957.78 L1373.2 954.6 Z" fill="#f0f" fill-rule="evenodd"/>
<path d="M1288.47 944.15 A3.4 3.4 0 0 1 1294.93 944.15 L1297.58 952.3 L1306.16 952.3 A3.4 3.4 0 0 1 1308.15 958.45 L1301.22 963.49 L1303.87 971.65 A3.4 3.4 0 0 1 1298.64 975.45 L1291.7 970.41 L1284.76 975.45 A3.4 3.4 0 0 1 1279.53 971.65 L1282.18 963.49 L1275.25 958.45 A3.4 3.4 0 0 1 1277.24 952.3 L1285.82 952.3 Z M1290.23 958.38 L1286.75 958.79 L1289.32 961.17 L1288.64 964.61 L1291.7 962.9 L1294.76 964.61 L1294.08 961.17 L1296.65 958.79 L1293.17 958.38 L1291.7 955.2 Z" fill="#f0f" fill-rule="evenodd"/>
<path d="M1269.27 1010.95 A3.4 3.4 0 0 1 1275.73 1010.95 L1278.38 1019.1 L1286.96 1019.1 A3.4 3.4 0 0 1 1288.95 1025.25 L1282.02 1030.29 L1284.67 1038.45 A3.4 3.4 0 0 1 1279.44 1042.25 L1272.5 1037.21 L1265.56 1042.25 A3.4 3.4 0 0 1 1260.33 1038.45 L1262.98 1030.29 L1256.05 1025.25 A3.4 3.4 0 0 1 1258.04 1019.1 L1266.62 1019.1 Z M1271.03 1025.18 L1267.55 1025.59 L1270.12 1027.97 L1269.44 1031.41 L1272.5 1029.7 L1275.56 1031.41 L1274.88 1027.97 L1277.45 1025.59 L1273.97 1025.18 L1272.5 1022 Z" fill="#f0f" fill-rule="evenodd"/>
<path d="M1349.37 1027.55 A3.4 3.4 0 0 1 1355.83 1027.55 L1358.48 1035.7 L1367.06 1035.7 A3.4 3.4 0 0 1 1369.05 1041.85 L1362.12 1046.89 L1364.77 1055.05 A3.4 3.4 0 0 1 1359.54 1058.85 L1352.6 1053.81 L1345.66 1058.85 A3.4 3.4 0 0 1 1340.43 1055.05 L1343.08 1046.89 L1336.15 1041.85 A3.4 3.4 0 0 1 1338.14 1035.7 L1346.72 1035.7 Z M1351.13 1041.78 L1347.65 1042.19 L1350.22 1044.57 L1349.54 1048.01 L1352.6 1046.3 L1355.66 1048.01 L1354.98 1044.57 L1357.55 1042.19 L1354.07 1041.78 L1352.6 1038.6 Z" fill="#f0f" fill-rule="evenodd"/>
<path d="M1296.07 1038.25 A3.4 3.4 0 0 1 1302.53 1038.25 L1305.18 1046.4 L1313.76 1046.4 A3.4 3.4 0 0 1 1315.75 1052.55 L1308.82 1057.59 L1311.47 1065.75 A3.4 3.4 0 0 1 1306.24 1069.55 L1299.3 1064.51 L1292.36 1069.55 A3.4 3.4 0 0 1 1287.13 1065.75 L1289.78 1057.59 L1282.85 1052.55 A3.4 3.4 0 0 1 1284.84 1046.4 L1293.42 1046.4 Z M1297.83 1052.48 L1294.35 1052.89 L1296.92 1055.27 L1296.24 1058.71 L1299.3 1057 L1302.36 1058.71 L1301.68 1055.27 L1304.25 1052.89 L1300.77 1052.48 L1299.3 1049.3 Z" fill="#f0f" fill-rule="evenodd"/>
<path d="M1275.77 1056.75 A3.4 3.4 0 0 1 1282.23 1056.75 L1284.88 1064.9 L1293.46 1064.9 A3.4 3.4 0 0 1 1295.45 1071.05 L1288.52 1076.09 L1291.17 1084.25 A3.4 3.4 0 0 1 1285.94 1088.05 L1279 1083.01 L1272.06 1088.05 A3.4 3.4 0 0 1 1266.83 1084.25 L1269.48 1076.09 L1262.55 1071.05 A3.4 3.4 0 0 1 1264.54 1064.9 L1273.12 1064.9 Z M1277.53 1070.98 L1274.05 1071.39 L1276.62 1073.77 L1275.94 1077.21 L1279 1075.5 L1282.06 1077.21 L1281.38 1073.77 L1283.95 1071.39 L1280.47 1070.98 L1279 1067.8 Z" fill="#f0f" fill-rule="evenodd"/>
<path d="M1292.77 1061.05 A3.4 3.4 0 0 1 1299.23 1061.05 L1301.88 1069.2 L1310.46 1069.2 A3.4 3.4 0 0 1 1312.45 1075.35 L1305.52 1080.39 L1308.17 1088.55 A3.4 3.4 0 0 1 1302.94 1092.35 L1296 1087.31 L1289.06 1092.35 A3.4 3.4 0 0 1 1283.83 1088.55 L1286.48 1080.39 L1279.55 1075.35 A3.4 3.4 0 0 1 1281.54 1069.2 L1290.12 1069.2 Z M1294.53 1075.28 L1291.05 1075.69 L1293.62 1078.07 L1292.94 1081.51 L1296 1079.8 L1299.06 1081.51 L1298.38 1078.07 L1300.95 1075.69 L1297.47 1075.28 L1296 1072.1 Z" fill="#f0f" fill-rule="evenodd"/>
<path d="M1315.57 1062.35 A3.4 3.4 0 0 1 1322.03 1062.35 L1324.68 1070.5 L1333.26 1070.5 A3.4 3.4 0 0 1 1335.25 1076.65 L1328.32 1081.69 L1330.97 1089.85 A3.4 3.4 0 0 1 1325.74 1093.65 L1318.8 1088.61 L1311.86 1093.65 A3.4 3.4 0 0 1 1306.63 1089.85 L1309.28 1081.69 L1302.35 1076.65 A3.4 3.4 0 0 1 1304.34 1070.5 L1312.92 1070.5 Z M1317.33 1076.58 L1313.85 1076.99 L1316.42 1079.37 L1315.74 1082.81 L1318.8 1081.1 L1321.86 1082.81 L1321.18 1079.37 L1323.75 1076.99 L1320.27 1076.58 L1318.8 1073.4 Z" fill="#f0f" fill-rule="evenodd"/>
</g>
<g stroke="#000" stroke-width="4.7" fill="none">
<rect x="356.55" y="78.35" width="1193.9" height="1195.1"/>
<path d="M372.07 1273.45v-25.3 M372.07 78.35v25.3 M398.72 1273.45v-25.3 M398.72 78.35v25.3 M419.39 1273.45v-25.3 M419.39 78.35v25.3 M436.28 1273.45v-25.3 M436.28 78.35v25.3 M450.56 1273.45v-25.3 M450.56 78.35v25.3 M462.93 1273.45v-25.3 M462.93 78.35v25.3 M473.84 1273.45v-25.3 M473.84 78.35v25.3 M483.6 1273.45v-49.8 M483.6 78.35v49.8 M547.81 1273.45v-25.3 M547.81 78.35v25.3 M585.37 1273.45v-25.3 M585.37 78.35v25.3 M612.02 1273.45v-25.3 M612.02 78.35v25.3 M632.69 1273.45v-25.3 M632.69 78.35v25.3 M649.58 1273.45v-25.3 M649.58 78.35v25.3 M663.86 1273.45v-25.3 M663.86 78.35v25.3 M676.23 1273.45v-25.3 M676.23 78.35v25.3 M687.14 1273.45v-25.3 M687.14 78.35v25.3 M696.9 1273.45v-49.8 M696.9 78.35v49.8 M761.11 1273.45v-25.3 M761.11 78.35v25.3 M798.67 1273.45v-25.3 M798.67 78.35v25.3 M825.32 1273.45v-25.3 M825.32 78.35v25.3 M845.99 1273.45v-25.3 M845.99 78.35v25.3 M862.88 1273.45v-25.3 M862.88 78.35v25.3 M877.16 1273.45v-25.3 M877.16 78.35v25.3 M889.53 1273.45v-25.3 M889.53 78.35v25.3 M900.44 1273.45v-25.3 M900.44 78.35v25.3 M910.2 1273.45v-49.8 M910.2 78.35v49.8 M974.41 1273.45v-25.3 M974.41 78.35v25.3 M1011.97 1273.45v-25.3 M1011.97 78.35v25.3 M1038.62 1273.45v-25.3 M1038.62 78.35v25.3 M1059.29 1273.45v-25.3 M1059.29 78.35v25.3 M1076.18 1273.45v-25.3 M1076.18 78.35v25.3 M1090.46 1273.45v-25.3 M1090.46 78.35v25.3 M1102.83 1273.45v-25.3 M1102.83 78.35v25.3 M1113.74 1273.45v-25.3 M1113.74 78.35v25.3 M1123.5 1273.45v-49.8 M1123.5 78.35v49.8 M1187.71 1273.45v-25.3 M1187.71 78.35v25.3 M1225.27 1273.45v-25.3 M1225.27 78.35v25.3 M1251.92 1273.45v-25.3 M1251.92 78.35v25.3 M1272.59 1273.45v-25.3 M1272.59 78.35v25.3 M1289.48 1273.45v-25.3 M1289.48 78.35v25.3 M1303.76 1273.45v-25.3 M1303.76 78.35v25.3 M1316.13 1273.45v-25.3 M1316.13 78.35v25.3 M1327.04 1273.45v-25.3 M1327.04 78.35v25.3 M1336.8 1273.45v-49.8 M1336.8 78.35v49.8 M1401.01 1273.45v-25.3 M1401.01 78.35v25.3 M1438.57 1273.45v-25.3 M1438.57 78.35v25.3 M1465.22 1273.45v-25.3 M1465.22 78.35v25.3 M1485.89 1273.45v-25.3 M1485.89 78.35v25.3 M1502.78 1273.45v-25.3 M1502.78 78.35v25.3 M1517.06 1273.45v-25.3 M1517.06 78.35v25.3 M1529.43 1273.45v-25.3 M1529.43 78.35v25.3 M1540.34 1273.45v-25.3 M1540.34 78.35v25.3 M356.55 1273.45h48.5 M1550.45 1273.45h-48.5 M356.55 1201.5h24.8 M1550.45 1201.5h-24.8 M356.55 1159.41h24.8 M1550.45 1159.41h-24.8 M356.55 1129.55h24.8 M1550.45 1129.55h-24.8 M356.55 1106.38h24.8 M1550.45 1106.38h-24.8 M356.55 1087.46h24.8 M1550.45 1087.46h-24.8 M356.55 1071.45h24.8 M1550.45 1071.45h-24.8 M356.55 1057.59h24.8 M1550.45 1057.59h-24.8 M356.55 1045.37h24.8 M1550.45 1045.37h-24.8 M356.55 1034.43h48.5 M1550.45 1034.43h-48.5 M356.55 962.48h24.8 M1550.45 962.48h-24.8 M356.55 920.39h24.8 M1550.45 920.39h-24.8 M356.55 890.53h24.8 M1550.45 890.53h-24.8 M356.55 867.36h24.8 M1550.45 867.36h-24.8 M356.55 848.44h24.8 M1550.45 848.44h-24.8 M356.55 832.43h24.8 M1550.45 832.43h-24.8 M356.55 818.57h24.8 M1550.45 818.57h-24.8 M356.55 806.35h24.8 M1550.45 806.35h-24.8 M356.55 795.41h48.5 M1550.45 795.41h-48.5 M356.55 723.46h24.8 M1550.45 723.46h-24.8 M356.55 681.37h24.8 M1550.45 681.37h-24.8 M356.55 651.51h24.8 M1550.45 651.51h-24.8 M356.55 628.34h24.8 M1550.45 628.34h-24.8 M356.55 609.42h24.8 M1550.45 609.42h-24.8 M356.55 593.41h24.8 M1550.45 593.41h-24.8 M356.55 579.55h24.8 M1550.45 579.55h-24.8 M356.55 567.33h24.8 M1550.45 567.33h-24.8 M356.55 556.39h48.5 M1550.45 556.39h-48.5 M356.55 484.44h24.8 M1550.45 484.44h-24.8 M356.55 442.35h24.8 M1550.45 442.35h-24.8 M356.55 412.49h24.8 M1550.45 412.49h-24.8 M356.55 389.32h24.8 M1550.45 389.32h-24.8 M356.55 370.4h24.8 M1550.45 370.4h-24.8 M356.55 354.39h24.8 M1550.45 354.39h-24.8 M356.55 340.53h24.8 M1550.45 340.53h-24.8 M356.55 328.31h24.8 M1550.45 328.31h-24.8 M356.55 317.37h48.5 M1550.45 317.37h-48.5 M356.55 245.42h24.8 M1550.45 245.42h-24.8 M356.55 203.33h24.8 M1550.45 203.33h-24.8 M356.55 173.47h24.8 M1550.45 173.47h-24.8 M356.55 150.3h24.8 M1550.45 150.3h-24.8 M356.55 131.38h24.8 M1550.45 131.38h-24.8 M356.55 115.37h24.8 M1550.45 115.37h-24.8 M356.55 101.51h24.8 M1550.45 101.51h-24.8 M356.55 89.29h24.8 M1550.45 89.29h-24.8 M356.55 78.35h48.5 M1550.45 78.35h-48.5"/>
</g>
<g style="font-family:'DejaVu Serif','Liberation Serif',serif;font-kerning:none" fill="#000" stroke="#000" stroke-width="0.9">
<text x="199.53" y="106" font-size="71" textLength="87.22" lengthAdjust="spacingAndGlyphs">10</text>
<text x="284.72" y="84.9" font-size="45.5" textLength="30.28" lengthAdjust="spacingAndGlyphs">6</text>
<text x="199.84" y="346.3" font-size="71" textLength="87.1" lengthAdjust="spacingAndGlyphs">10</text>
<text x="283.45" y="322.7" font-size="45.5" textLength="31.8" lengthAdjust="spacingAndGlyphs">5</text>
<text x="199.56" y="584.9" font-size="71" textLength="86.98" lengthAdjust="spacingAndGlyphs">10</text>
<text x="285.51" y="562.8" font-size="45.5" textLength="28.76" lengthAdjust="spacingAndGlyphs">4</text>
<text x="135.07" y="822" font-size="71" textLength="179.93" lengthAdjust="spacingAndGlyphs">1000</text>
<text x="180.18" y="1060.8" font-size="71" textLength="134.81" lengthAdjust="spacingAndGlyphs">100</text>
<text x="226.44" y="1299.9" font-size="71" textLength="88.16" lengthAdjust="spacingAndGlyphs">10</text>
<text x="379.95" y="1365.7" font-size="71" textLength="206.4" lengthAdjust="spacingAndGlyphs">0.001</text>
<text x="615.95" y="1365.7" font-size="71" textLength="160.6" lengthAdjust="spacingAndGlyphs">0.01</text>
<text x="853.36" y="1365.7" font-size="71" textLength="114.24" lengthAdjust="spacingAndGlyphs">0.1</text>
<text x="1103.79" y="1365.7" font-size="71" textLength="41.72" lengthAdjust="spacingAndGlyphs">1</text>
<text x="1295.11" y="1365.7" font-size="71" textLength="88.51" lengthAdjust="spacingAndGlyphs">10</text>
<text x="1485.9" y="1365.7" font-size="71" textLength="134.48" lengthAdjust="spacingAndGlyphs">100</text>
<text x="597.91" y="1463.6" font-size="71" textLength="51.96" lengthAdjust="spacingAndGlyphs">U</text>
<text x="654.9" y="1463.6" font-size="71" textLength="17.51" lengthAdjust="spacingAndGlyphs">’</text>
<text x="675.62" y="1487" font-size="45" font-weight="bold" textLength="21.66" lengthAdjust="spacingAndGlyphs">r</text>
<text x="698.91" y="1463.6" font-size="71" textLength="56.08" lengthAdjust="spacingAndGlyphs">+</text>
<text x="758.08" y="1463.6" font-size="71" textLength="52.52" lengthAdjust="spacingAndGlyphs">U</text>
<text x="815.14" y="1463.6" font-size="71" textLength="17.32" lengthAdjust="spacingAndGlyphs">’</text>
<text x="835.28" y="1486.9" font-size="46.8" font-weight="bold" textLength="31.05" lengthAdjust="spacingAndGlyphs">B</text>
<text x="901.77" y="1463.6" font-size="71" textLength="31.44" lengthAdjust="spacingAndGlyphs">[</text>
<text x="934.23" y="1463.6" font-size="71" textLength="122.57" lengthAdjust="spacingAndGlyphs">erg</text>
<text x="1096.33" y="1463.6" font-size="71" textLength="117.09" lengthAdjust="spacingAndGlyphs">cm</text>
<text x="1216.83" y="1443.7" font-size="45.5" textLength="25.03" lengthAdjust="spacingAndGlyphs">−</text>
<text x="1247.69" y="1443.7" font-size="45.5" textLength="31.82" lengthAdjust="spacingAndGlyphs">3</text>
<text x="1278.62" y="1463.6" font-size="71" textLength="30.76" lengthAdjust="spacingAndGlyphs">]</text>
<g transform="translate(61.6,753.8) rotate(-90)"><text x="-5.7" y="0" font-size="68.9" font-style="italic" font-family="'DejaVu Sans','Liberation Sans',sans-serif" stroke="#000" stroke-width="0.8" textLength="45.46" lengthAdjust="spacingAndGlyphs">γ</text></g>
<g transform="translate(82.7,706.8) rotate(-90)"><text x="-0.92" y="0" font-size="44.5" font-weight="bold" textLength="107.03" lengthAdjust="spacingAndGlyphs">peak</text></g>
</g>
<path d="M440.5 153.9 L461 174.4 L440.5 194.9 L420 174.4 Z" fill="#f00"/>
<path d="M440.5 163.9 L451 174.4 L440.5 184.9 L430 174.4 Z" fill="#0ff"/>
<path d="M910.2 153.9 L930.7 174.4 L910.2 194.9 L889.7 174.4 Z" fill="#f00"/>
<path d="M910.2 163.9 L920.7 174.4 L910.2 184.9 L899.7 174.4 Z" fill="#ff0"/>
<path d="M1230.9 153.9 L1251.4 174.4 L1230.9 194.9 L1210.4 174.4 Z" fill="#f00"/>
<path d="M1230.9 163.9 L1241.4 174.4 L1230.9 184.9 L1220.4 174.4 Z" fill="#000"/>
<circle cx="441" cy="1010.5" r="20.3" fill="#000"/>
<circle cx="441" cy="1010.5" r="10.5" fill="#0f0"/>
<circle cx="441" cy="1130.4" r="20.3" fill="#0f0"/>
<circle cx="441" cy="1130.4" r="10.3" fill="#00f"/>
<circle cx="782.2" cy="1130.4" r="20.2" fill="#f00"/>
<circle cx="782.2" cy="1130.4" r="10.4" fill="#fdbb52"/>
<g style="font-family:'DejaVu Serif','Liberation Serif',serif;font-kerning:none" fill="#000">
<text x="483.46" y="188.8" font-size="46.6" font-weight="bold" textLength="70.06" lengthAdjust="spacingAndGlyphs">CIV</text>
<text x="577.37" y="188.8" font-size="46.6" font-weight="bold" textLength="32.28" lengthAdjust="spacingAndGlyphs">&amp;</text>
<text x="634.45" y="188.8" font-size="46.6" font-weight="bold" textLength="88.02" lengthAdjust="spacingAndGlyphs">MgII</text>
<text x="744.53" y="188.8" font-size="46.6" font-weight="bold" textLength="125.18" lengthAdjust="spacingAndGlyphs">(z&gt;1)</text>
<text x="953.64" y="188.8" font-size="46.6" font-weight="bold" textLength="88.85" lengthAdjust="spacingAndGlyphs">MgII</text>
<text x="1065.14" y="188.8" font-size="46.6" font-weight="bold" textLength="124.86" lengthAdjust="spacingAndGlyphs">(z&gt;1)</text>
<text x="1273.14" y="188.8" font-size="46.6" font-weight="bold" textLength="70.77" lengthAdjust="spacingAndGlyphs">CIV</text>
<text x="1364.9" y="188.8" font-size="46.6" font-weight="bold" textLength="126.14" lengthAdjust="spacingAndGlyphs">(z&gt;1)</text>
<text x="484.18" y="1024.8" font-size="46.6" font-weight="bold" textLength="32.67" lengthAdjust="spacingAndGlyphs">H</text>
<text x="518.36" y="1024.8" font-size="46.6" font-weight="bold" font-style="italic" textLength="26.7" lengthAdjust="spacingAndGlyphs">β</text>
<text x="567.43" y="1024.8" font-size="46.6" font-weight="bold" textLength="33.13" lengthAdjust="spacingAndGlyphs">&amp;</text>
<text x="624.43" y="1024.8" font-size="46.6" font-weight="bold" textLength="89.16" lengthAdjust="spacingAndGlyphs">MgII</text>
<text x="735.55" y="1024.8" font-size="46.6" font-weight="bold" textLength="124.54" lengthAdjust="spacingAndGlyphs">(z&lt;1)</text>
<text x="484.4" y="1144.6" font-size="46.6" font-weight="bold" textLength="32.23" lengthAdjust="spacingAndGlyphs">H</text>
<text x="518.46" y="1144.6" font-size="46.6" font-weight="bold" font-style="italic" textLength="26.7" lengthAdjust="spacingAndGlyphs">β</text>
<text x="566.12" y="1144.6" font-size="46.6" font-weight="bold" textLength="125.61" lengthAdjust="spacingAndGlyphs">(z&lt;1)</text>
<text x="825.72" y="1144.6" font-size="46.6" font-weight="bold" textLength="89.78" lengthAdjust="spacingAndGlyphs">MgII</text>
<text x="936.84" y="1144.6" font-size="46.6" font-weight="bold" textLength="124.86" lengthAdjust="spacingAndGlyphs">(z&lt;1)</text>
</g>
</svg></body></html>
